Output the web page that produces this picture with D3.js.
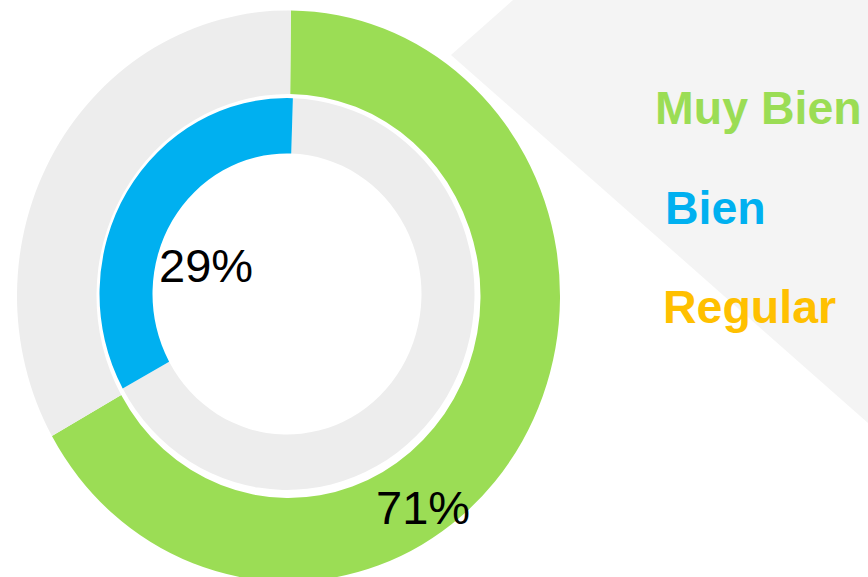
<!DOCTYPE html>
<html>
<head>
<meta charset="utf-8">
<script src="https://cdn.jsdelivr.net/npm/d3@7"></script>
<style>
  html, body { margin: 0; padding: 0; background: #fff; }
  svg { display: block; font-family: "Liberation Sans", Arial, sans-serif; }
</style>
</head>
<body>
<div id="chart"></div>
<script>
// legend categories and colours
const categories = ["Muy Bien", "Bien", "Regular"];
const catColors = ["#9bdd55", "#00b0f0", "#ffc000"];

// ring shares as drawn (percent of a full turn)
const outerValues = [66.7, 33.3];   // Muy Bien, rest
const innerValues = [33.5, 66.5];   // Bien, rest
// labels printed on the chart
const outerLabel = "71%";
const innerLabel = "29%";

const width = 868, height = 577;
const restColor = "#ededed";

const svg = d3.select("#chart")
  .append("svg")
  .attr("width", width)
  .attr("height", height);

// light background shape behind the legend
svg.append("path")
  .attr("d", "M513,0 L868,0 L868,423 L451,55 Z")
  .attr("fill", "#f4f4f4");

const deg = Math.PI / 180;

// outer ring (green)
const outerPie = d3.pie().sort(null)
  .startAngle(0.5 * deg).endAngle(0.5 * deg + 2 * Math.PI);
const outerArc = d3.arc().innerRadius(192).outerRadius(271.5);

const gOuter = svg.append("g")
  .attr("transform", "translate(288.5,296) scale(1,1.052)");
gOuter.selectAll("path")
  .data(outerPie(outerValues))
  .enter()
  .append("path")
  .attr("d", outerArc)
  .attr("fill", (d, i) => i === 0 ? catColors[0] : restColor);

// inner ring (blue) - starts just right of 12 o'clock, runs counter-clockwise
const innerPie = d3.pie().sort(null)
  .startAngle(1.8 * deg).endAngle(1.8 * deg + 2 * Math.PI);
const innerArc = d3.arc().innerRadius(134.5).outerRadius(187.5);

const gInner = svg.append("g")
  .attr("transform", "translate(287,294) scale(1,1.045)");
gInner.selectAll("path")
  .data(innerPie([innerValues[1], innerValues[0]]))
  .enter()
  .append("path")
  .attr("d", innerArc)
  .attr("fill", (d, i) => i === 1 ? catColors[1] : restColor);

// percentage labels
svg.append("text")
  .attr("x", 159).attr("y", 282)
  .attr("font-size", 47)
  .attr("fill", "#000")
  .text(innerLabel);

svg.append("text")
  .attr("x", 376).attr("y", 524)
  .attr("font-size", 47)
  .attr("fill", "#000")
  .text(outerLabel);

// legend
const legendPos = [
  { x: 655, y: 124 },
  { x: 665, y: 224 },
  { x: 663, y: 323 }
];
svg.selectAll("text.legend")
  .data(categories)
  .enter()
  .append("text")
  .attr("class", "legend")
  .attr("x", (d, i) => legendPos[i].x)
  .attr("y", (d, i) => legendPos[i].y)
  .attr("font-size", 46.5)
  .attr("font-weight", "bold")
  .attr("fill", (d, i) => catColors[i])
  .text(d => d);
</script>
</body>
</html>
